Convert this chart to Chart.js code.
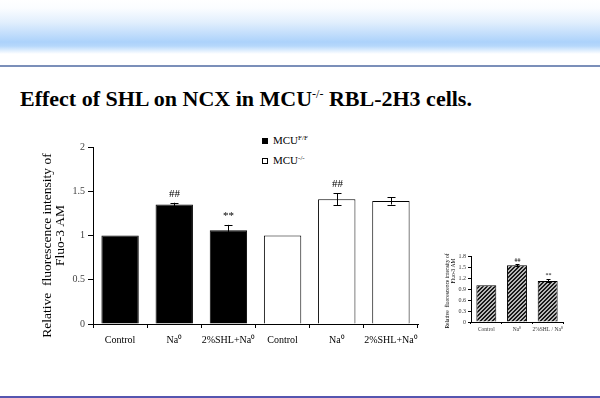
<!DOCTYPE html>
<html>
<head>
<meta charset="utf-8">
<script src="https://cdn.jsdelivr.net/npm/chart.js@4/dist/chart.umd.min.js"></script>
<style>
  body { margin: 0; width: 600px; height: 398px; position: relative; overflow: hidden; background: #fff; font-family: "Liberation Serif", serif; }
  #band { position: absolute; left: 0; top: 0; width: 600px; height: 54px;
    background: linear-gradient(to bottom, #fff 0px, #fbfdff 8px, #e2effd 22px, #acd2fb 42px, #b6d8fb 46px, #fff 54px); }
  #rule { position: absolute; left: 0; top: 65px; width: 600px; height: 2px; background: #7b8fb9; }
  #title { position: absolute; left: 20px; top: 88px; font-family: "Liberation Serif", "Times New Roman", serif; font-size: 22px; line-height: 22px; font-weight: bold; white-space: nowrap; }
  #title sup { font-size: 12px; vertical-align: 8px; line-height: 0; font-weight: normal; }
  #legend { position: absolute; left: 262px; top: 133px; font-size: 11px; }
  .leg { height: 20px; line-height: 14px; white-space: nowrap; }
  .sw { display: inline-block; width: 6px; height: 6px; margin-right: 5px; box-sizing: border-box; border: 1px solid #000; }
  .leg sup { font-size: 7px; vertical-align: 4px; line-height: 0; }
  #main { position: absolute; left: 0; top: 130px; }
  #inset { position: absolute; left: 430px; top: 240px; }
  #foot { position: absolute; left: 0; top: 396px; width: 600px; height: 2px; background: #5656b0; }
</style>
</head>
<body>
<div id="band"></div>
<div id="rule"></div>
<div id="title">Effect of SHL on NCX in MCU<sup>-/-</sup> RBL-2H3 cells.</div>
<div id="legend"></div>
<canvas id="main" width="430" height="230"></canvas>
<canvas id="inset" width="150" height="100"></canvas>
<div id="foot"></div>
<script>
// main chart data
const categories = ['Control', 'Na\u2070', '2%SHL+Na\u2070', 'Control', 'Na\u2070', '2%SHL+Na\u2070'];
const values = [1.00, 1.35, 1.06, 1.00, 1.41, 1.39];
const errors = [0, 0.02, 0.06, 0, 0.07, 0.04];
const marks = ['', '##', '**', '', '##', ''];
const barColors = ['#000', '#000', '#000', '#fff', '#fff', '#fff'];
const yTicks = [0, 0.5, 1, 1.5, 2];
const yTitle = ['Relative  fluorescence intensity of', 'Fluo-3 AM'];

// legend
const groupNames = ['MCU', 'MCU'];
const groupSups = ['F/F', '-/-'];
const groupColors = ['#000', '#fff'];

// small inset chart data
const insetCategories = ['Control', 'Na\u2070', '2%SHL / Na\u2070'];
const insetValues = [1.00, 1.55, 1.12];
const insetErrors = [0, 0.03, 0.04];
const insetMarks = ['', '##', '**'];
const insetTicks = [0, 0.3, 0.6, 0.9, 1.2, 1.5, 1.8];

const serif = '"Liberation Serif", "Times New Roman", serif';

// build the html legend
document.getElementById('legend').innerHTML = groupNames.map((n, i) =>
  `<div class="leg"><span class="sw" style="background:${groupColors[i]}"></span>${n}<sup>${groupSups[i]}</sup></div>`
).join('');

// error bars + significance marks
const errorBars = {
  id: 'errorBars',
  afterDatasetsDraw(chart, args, opts) {
    const { ctx, scales: { x, y } } = chart;
    const data = chart.data.datasets[0].data;
    ctx.save();
    ctx.strokeStyle = '#000';
    ctx.lineWidth = 1;
    ctx.fillStyle = '#000';
    ctx.font = opts.font;
    ctx.textAlign = 'center';
    ctx.textBaseline = 'bottom';
    opts.errors.forEach((e, i) => {
      const cx = Math.round(x.getPixelForValue(i)) + 0.5;
      const top = y.getPixelForValue(data[i] + e);
      if (e > 0) {
        const bot = y.getPixelForValue(data[i] - e);
        ctx.beginPath();
        ctx.moveTo(cx, top); ctx.lineTo(cx, bot);
        ctx.moveTo(cx - opts.cap, Math.round(top) + 0.5); ctx.lineTo(cx + opts.cap, Math.round(top) + 0.5);
        ctx.moveTo(cx - opts.cap, Math.round(bot) + 0.5); ctx.lineTo(cx + opts.cap, Math.round(bot) + 0.5);
        ctx.stroke();
      }
      if (opts.marks[i]) ctx.fillText(opts.marks[i], cx, top - opts.gap);
    });
    ctx.restore();
  }
};

// rotated two-line y title
const yTitlePlugin = {
  id: 'yTitle',
  afterDraw(chart, args, opts) {
    const { ctx, chartArea } = chart;
    ctx.save();
    ctx.font = opts.font;
    ctx.fillStyle = '#000';
    ctx.textAlign = 'center';
    ctx.textBaseline = 'middle';
    opts.lines.forEach((t, i) => {
      ctx.save();
      ctx.translate(opts.xs[i], (chartArea.top + chartArea.bottom) / 2 + opts.shift[i]);
      ctx.rotate(-Math.PI / 2);
      ctx.fillText(t, 0, 0);
      ctx.restore();
    });
    ctx.restore();
  }
};

new Chart(document.getElementById('main'), {
  type: 'bar',
  data: {
    labels: categories,
    datasets: [{
      data: values,
      backgroundColor: barColors,
      borderColor: '#000',
      borderWidth: 1,
      categoryPercentage: 1,
      barPercentage: 0.69
    }]
  },
  options: {
    responsive: false,
    animation: false,
    layout: { padding: { top: 17, right: 12, left: 0, bottom: 0 } },
    plugins: {
      legend: { display: false },
      tooltip: { enabled: false },
      errorBars: { errors: errors, marks: marks, cap: 4, gap: 3, font: '11px ' + serif },
      yTitle: { lines: yTitle, xs: [47, 60], shift: [10, 0], font: '13.5px ' + serif }
    },
    scales: {
      x: {
        afterFit(s) { s.height = 36; },
        border: { color: '#000', width: 1 },
        grid: { drawOnChartArea: false, color: '#000', tickLength: 4, offset: true },
        ticks: { color: '#000', font: { family: serif, size: 10 }, padding: 6, maxRotation: 0, autoSkip: false }
      },
      y: {
        min: 0, max: 2,
        afterFit(s) { s.width = 93; },
        afterBuildTicks(s) { s.ticks = yTicks.map(v => ({ value: v })); },
        border: { color: '#000', width: 1 },
        grid: { drawOnChartArea: false, color: '#000', tickLength: 5 },
        ticks: { color: '#444', font: { family: serif, size: 10 }, padding: 3, callback: v => String(v) }
      }
    }
  },
  plugins: [errorBars, yTitlePlugin]
});

// hatch pattern for the inset bars
const pc = document.createElement('canvas');
pc.width = 4; pc.height = 4;
const pctx = pc.getContext('2d');
pctx.fillStyle = '#b8b8b8';
pctx.fillRect(0, 0, 4, 4);
pctx.fillStyle = '#1a1a1a';
for (let i = 0; i < 4; i++) {
  pctx.fillRect(i, 3 - i, 1, 1);
  pctx.fillRect(i, (6 - i) % 4, 1, 1);
}
const hatch = pctx.createPattern(pc, 'repeat');

new Chart(document.getElementById('inset'), {
  type: 'bar',
  data: {
    labels: insetCategories,
    datasets: [{
      data: insetValues,
      backgroundColor: hatch,
      borderColor: '#000',
      borderWidth: 1,
      categoryPercentage: 1,
      barPercentage: 0.65
    }]
  },
  options: {
    responsive: false,
    animation: false,
    layout: { padding: { top: 16, right: 17, left: 0, bottom: 0 } },
    plugins: {
      legend: { display: false },
      tooltip: { enabled: false },
      errorBars: { errors: insetErrors, marks: insetMarks, cap: 2, gap: 1, font: '6px ' + serif },
      yTitle: { lines: yTitle, xs: [18, 24], shift: [2, -18], font: '5.5px ' + serif }
    },
    scales: {
      x: {
        afterFit(s) { s.height = 18; },
        border: { color: '#000', width: 1 },
        grid: { drawOnChartArea: false, color: '#000', tickLength: 2, offset: true },
        ticks: { color: '#333', font: { family: serif, size: 5.5 }, padding: 2, maxRotation: 0, autoSkip: false }
      },
      y: {
        min: 0, max: 1.8,
        afterFit(s) { s.width = 41; },
        afterBuildTicks(s) { s.ticks = insetTicks.map(v => ({ value: v })); },
        border: { color: '#000', width: 1 },
        grid: { drawOnChartArea: false, color: '#000', tickLength: 3 },
        ticks: { color: '#333', font: { family: serif, size: 6 }, padding: 2, callback: v => String(v) }
      }
    }
  },
  plugins: [errorBars, yTitlePlugin]
});
</script>
</body>
</html>
